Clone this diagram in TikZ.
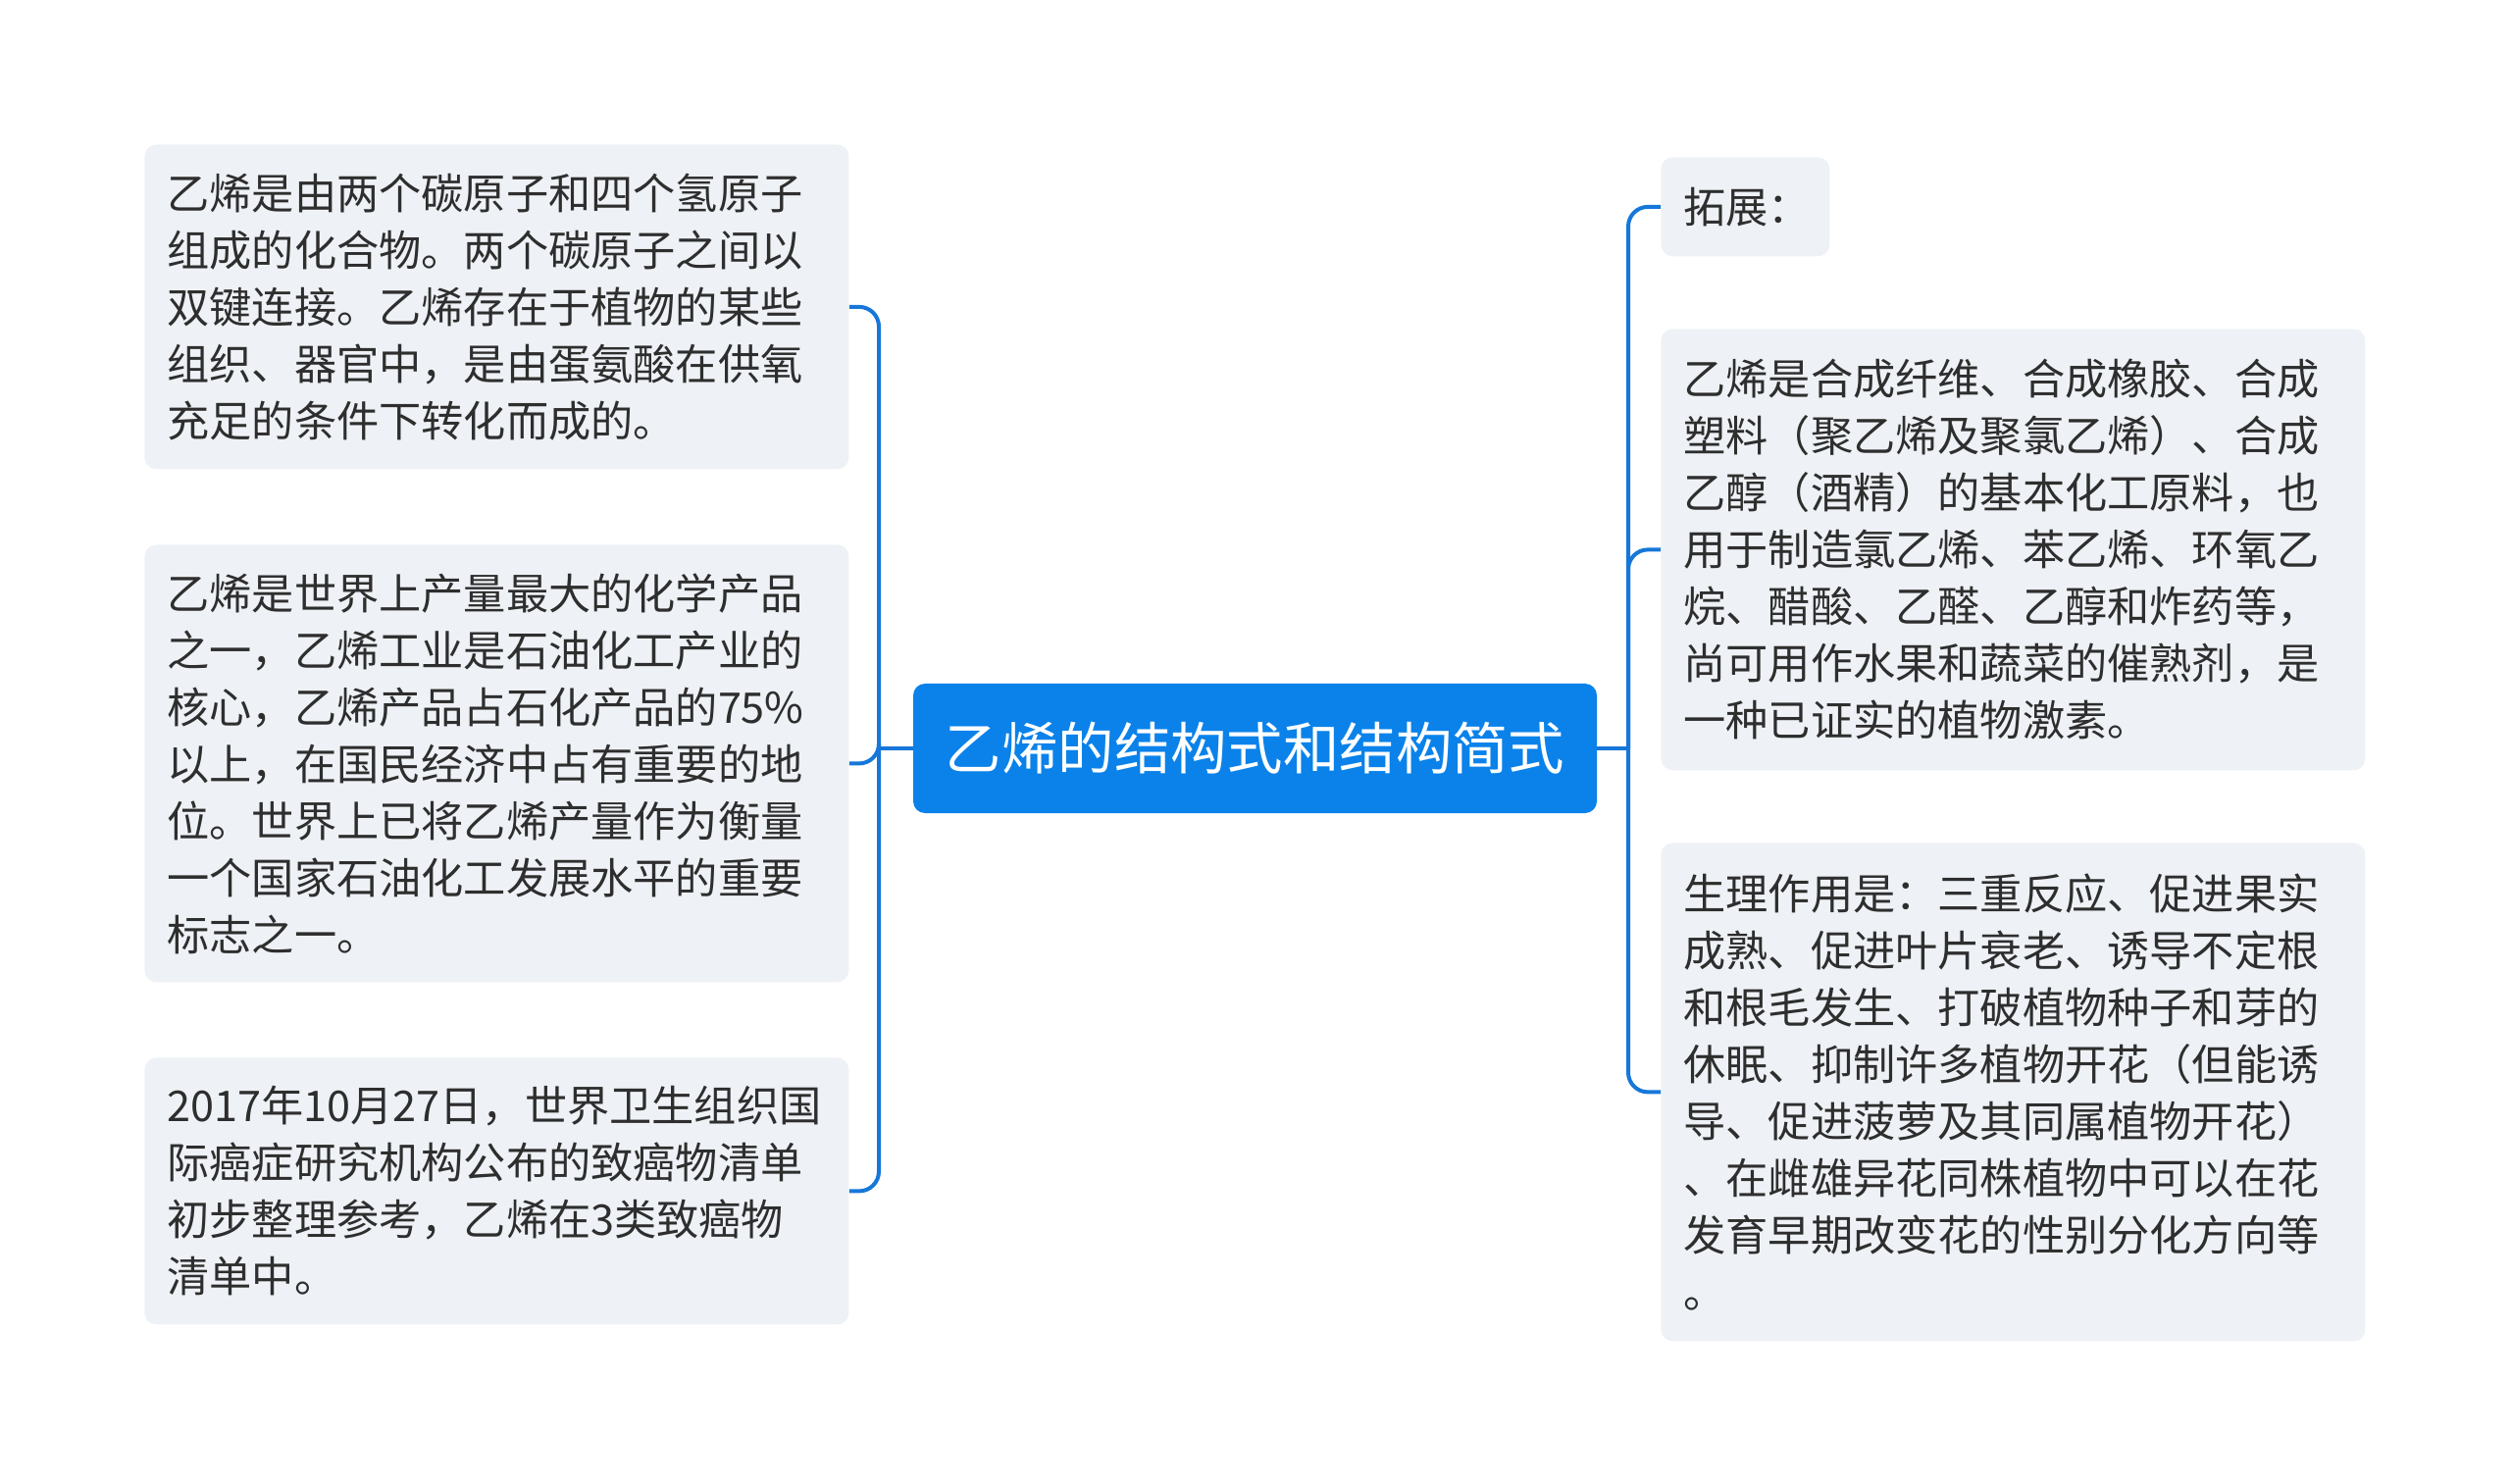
\documentclass[tikz,border=0pt]{standalone}
\usepackage{fontspec}
\usepackage{tikz}
\newfontfamily\cjkfont{Noto Sans CJK SC}
\definecolor{linkblue}{HTML}{1677D9}
\definecolor{titleblue}{HTML}{0A82EA}
\definecolor{leafgray}{HTML}{EEF1F5}
\definecolor{textdark}{HTML}{2E2E2E}

\begin{document}
\begin{tikzpicture}[x=0.5pt,y=-0.5pt,
  title/.style={fill=titleblue, rounded corners=6pt, text=white,
    minimum width=348.5pt, minimum height=66pt, inner sep=0pt,
    font=\cjkfont\fontsize{28.7pt}{34pt}\selectfont},
  leaf/.style={fill=leafgray, rounded corners=6pt, text=textdark,
    anchor=north west, align=left, inner xsep=11.5pt, inner ysep=0pt,
    text width=336pt, font=\cjkfont\fontsize{21.6pt}{29pt}\selectfont},
  branch/.style={draw=linkblue, line width=2pt, rounded corners=10pt}]
  \useasboundingbox (0,0) rectangle (2560,1513);

  %centre
  \node[title] (title) at (1279.5,763) {乙烯的结构式和结构简式};

  %left side
  \node[leaf, minimum height=165.5pt] (l1) at (147,147)
    {乙烯是由两个碳原子和四个氢原子\\组成的化合物。两个碳原子之间以\\双键连接。乙烯存在于植物的某些\\组织、器官中，是由蛋氨酸在供氧\\充足的条件下转化而成的。};
  \node[leaf, minimum height=223pt] (l2) at (147,555)
    {乙烯是世界上产量最大的化学产品\\之一，乙烯工业是石油化工产业的\\核心，乙烯产品占石化产品的75\%\\以上，在国民经济中占有重要的地\\位。世界上已将乙烯产量作为衡量\\一个国家石油化工发展水平的重要\\标志之一。};
  \node[leaf, minimum height=136pt] (l3) at (147,1078)
    {2017年10月27日，世界卫生组织国\\际癌症研究机构公布的致癌物清单\\初步整理参考，乙烯在3类致癌物\\清单中。};

  %right side
  \node[leaf, text width=63pt, minimum height=50.5pt] (r1) at (1693,160) {拓展：};
  \node[leaf, minimum height=225pt] (r2) at (1693,335)
    {乙烯是合成纤维、合成橡胶、合成\\塑料（聚乙烯及聚氯乙烯）、合成\\乙醇（酒精）的基本化工原料，也\\用于制造氯乙烯、苯乙烯、环氧乙\\烷、醋酸、乙醛、乙醇和炸药等，\\尚可用作水果和蔬菜的催熟剂，是\\一种已证实的植物激素。};
  \node[leaf, minimum height=254pt] (r3) at (1693,859)
    {生理作用是：三重反应、促进果实\\成熟、促进叶片衰老、诱导不定根\\和根毛发生、打破植物种子和芽的\\休眠、抑制许多植物开花（但能诱\\导、促进菠萝及其同属植物开花）\\、在雌雄异花同株植物中可以在花\\发育早期改变花的性别分化方向等\\。};

  %connectors
  \coordinate (lspine) at (896,763);
  \coordinate (rspine) at (1660,763);
  \draw[branch] (title.west) -- (lspine);
  \draw[branch] (title.east) -- (rspine);
  \foreach \n in {l1,l2,l3}
      \draw[branch] (lspine) |- (\n.east);
  \foreach \n in {r1,r2,r3}
      \draw[branch] (rspine) |- (\n.west);
\end{tikzpicture}
\end{document}
